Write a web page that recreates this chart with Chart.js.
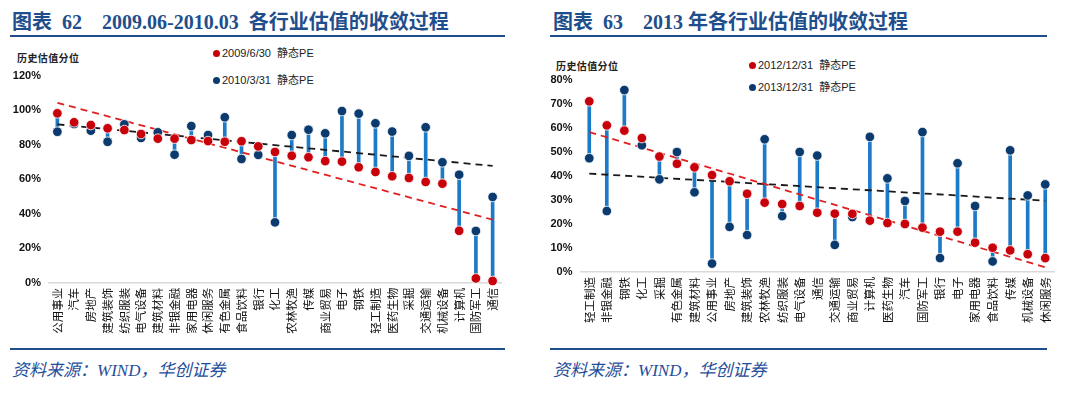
<!DOCTYPE html>
<html>
<head>
<meta charset="utf-8">
<script src="https://cdn.jsdelivr.net/npm/chart.js@4.4.0/dist/chart.umd.min.js"></script>
<style>
  body { margin: 0; background: #fff; width: 1080px; height: 393px; position: relative; overflow: hidden; }
  .title { position: absolute; top: 6px; font: bold 20px "Liberation Serif", "Noto Sans CJK SC", serif; color: #1f4e8c; white-space: pre; }
  .rule { position: absolute; height: 2px; background: #1f4e8c; }
  .src { position: absolute; top: 356px; font: italic 17px "Liberation Serif", "Noto Sans CJK SC", serif; color: #1f4e9a; }
  .ylab { position: absolute; font: bold 10px "Noto Sans CJK SC", sans-serif; color: #222; letter-spacing: 0.4px; }
  .leg { position: absolute; font: 11px "Liberation Sans", "Noto Sans CJK SC", sans-serif; color: #222; white-space: nowrap; }
  .leg i { display: inline-block; width: 7px; height: 7px; border-radius: 50%; margin-right: 2px; vertical-align: 0px; }
  canvas { position: absolute; top: 40px; }
</style>
</head>
<body>
<div class="title" style="left:12px">图表  62    2009.06-2010.03  各行业估值的收敛过程</div>
<div class="rule" style="left:10px;width:495px;top:35px"></div>
<div class="ylab" style="left:17px;top:50px">历史估值分位</div>
<div class="leg" style="left:213px;top:44px"><i style="background:#c8000a"></i>2009/6/30&nbsp; 静态PE</div>
<div class="leg" style="left:213px;top:71px"><i style="background:#0b3a6e"></i>2010/3/31&nbsp; 静态PE</div>
<canvas id="leftChart" width="540" height="305" style="left:0"></canvas>
<div class="rule" style="left:10px;width:495px;top:348px"></div>
<div class="src" style="left:12px">资料来源：WIND，华创证券</div>

<div class="title" style="left:553px">图表  63    2013 年各行业估值的收敛过程</div>
<div class="rule" style="left:550px;width:497px;top:35px"></div>
<div class="ylab" style="left:556px;top:58px">历史估值分位</div>
<div class="leg" style="left:749px;top:56px"><i style="background:#c8000a"></i>2012/12/31&nbsp; 静态PE</div>
<div class="leg" style="left:749px;top:78px"><i style="background:#0b3a6e"></i>2013/12/31&nbsp; 静态PE</div>
<canvas id="rightChart" width="540" height="305" style="left:540px"></canvas>
<div class="rule" style="left:550px;width:497px;top:348px"></div>
<div class="src" style="left:553px">资料来源：WIND，华创证券</div>

<script>
// Figure 62: 2009/6/30 vs 2010/3/31
const leftCats = ['公用事业', '汽车', '房地产', '建筑装饰', '纺织服装', '电气设备', '建筑材料', '非银金融', '家用电器',
    '休闲服务', '有色金属', '食品饮料', '银行', '化工', '农林牧渔', '传媒', '商业贸易', '电子', '钢铁', '轻工制造',
    '医药生物', '采掘', '交通运输', '机械设备', '计算机', '国防军工', '通信'];
const left2009 = [98.2, 93, 91.4, 89.5, 88.5, 86.2, 83.5, 83.5, 82.7, 82.1, 81.7, 82, 79, 75.8, 73.6, 72.7, 70.5, 70.2,
    66.9, 64.2, 61.7, 60.7, 58.4, 57.4, 30.1, 2.5, 1];
const left2010 = [87.5, 92, 88.1, 81.7, 91.8, 83.9, 87.2, 74.2, 90.8, 85.6, 95.9, 71.7, 74.1, 35, 85.6, 88.7, 86.6, 99.5,
    98, 92.4, 87.6, 73.5, 90.1, 69.8, 62.6, 30, 49.7];
const leftRedTrend = [104.3, 36.5];   // trend of 2009 values, first/last category
const leftBlackTrend = [91.8, 67.7];  // trend of 2010 values
const leftTicks = { max: 120, step: 20 };

// Figure 63: 2012/12/31 vs 2013/12/31
const rightCats = ['轻工制造', '非银金融', '钢铁', '化工', '采掘', '有色金属', '建筑材料', '公用事业', '房地产', '建筑装饰',
    '农林牧渔', '纺织服装', '电气设备', '通信', '交通运输', '商业贸易', '计算机', '医药生物', '汽车', '国防军工', '银行',
    '电子', '家用电器', '食品饮料', '传媒', '机械设备', '休闲服务'];
const right2012 = [71.1, 61.1, 58.9, 55.8, 48.1, 45.1, 43.6, 40.4, 37.8, 32.6, 28.9, 28.3, 27.5, 24.7, 24.3, 24.2, 21.4,
    20.4, 20, 18.5, 16.8, 16.8, 12.2, 10.1, 9, 7.4, 5.8];
const right2013 = [47.4, 25.4, 75.8, 52.8, 38.6, 50, 33.2, 3.5, 18.8, 15.4, 55.3, 23.3, 50, 48.5, 11.3, 22.9, 56.3, 39,
    29.6, 58.3, 5.8, 45.3, 27.5, 4.4, 50.7, 31.9, 36.5];
const rightRedTrend = [58.3, 2];
const rightBlackTrend = [41, 29.7];
const rightTicks = { max: 80, step: 10 };

const RED = '#c8000a';
const NAVY = '#0b3a6e';
const STEM = '#1d7ac6';

function endsOnly(n, ends) {
    const arr = new Array(n).fill(null);
    arr[0] = ends[0];
    arr[n - 1] = ends[1];
    return arr;
}

function buildChart(id, cats, redVals, blueVals, redTrend, blackTrend, ticks, box) {
    const n = cats.length;
    const stems = redVals.map((v, i) => [Math.min(v, blueVals[i]), Math.max(v, blueVals[i])]);
    const pointDs = (data, color, order) => ({
        type: 'line', data: data, showLine: false, order: order,
        pointRadius: 4.8, pointHoverRadius: 4.8, pointBackgroundColor: color,
        pointBorderColor: '#fff', pointBorderWidth: 0.8, clip: false
    });
    const trendDs = (data, color) => ({
        type: 'line', data: endsOnly(n, data), spanGaps: true, order: 3,
        borderColor: color, borderWidth: 1.8, borderDash: [7, 5], pointRadius: 0, clip: false
    });
    return new Chart(document.getElementById(id).getContext('2d'), {
        type: 'bar',
        data: {
            labels: cats,
            datasets: [
                { data: stems, backgroundColor: STEM, barThickness: 3, order: 5, borderSkipped: false },
                trendDs(redTrend, '#e02020'),
                trendDs(blackTrend, '#1a1a1a'),
                pointDs(blueVals, NAVY, 2),
                pointDs(redVals, RED, 1)
            ]
        },
        options: {
            responsive: false,
            animation: false,
            layout: { padding: { top: box.top, right: box.right, left: 0, bottom: 0 } },
            plugins: { legend: { display: false }, tooltip: { enabled: false } },
            scales: {
                x: {
                    grid: { display: false, drawTicks: false },
                    border: { display: true, color: '#d9d9d9', width: 1.5 },
                    ticks: {
                        autoSkip: false, minRotation: 90, maxRotation: 90, padding: 5, color: '#111',
                        font: { family: '"Noto Sans CJK SC"', size: 11.5 }
                    },
                    afterFit: (s) => { s.height = box.xh; }
                },
                y: {
                    min: 0, max: ticks.max,
                    grid: { display: false, drawTicks: false },
                    border: { display: false },
                    ticks: {
                        stepSize: ticks.step, padding: 8, color: '#111',
                        font: { family: '"Liberation Sans"', size: 11, weight: 'bold' },
                        callback: (v) => v + '%'
                    },
                    afterFit: (s) => { s.width = box.yw; }
                }
            }
        }
    });
}

const leftChart = buildChart('leftChart', leftCats, left2009, left2010, leftRedTrend, leftBlackTrend, leftTicks,
    { top: 35.7, right: 39, xh: 62.3, yw: 49 });
const rightChart = buildChart('rightChart', rightCats, right2012, right2013, rightRedTrend, rightBlackTrend, rightTicks,
    { top: 40, right: 26, xh: 73, yw: 40.5 });
</script>
</body>
</html>
